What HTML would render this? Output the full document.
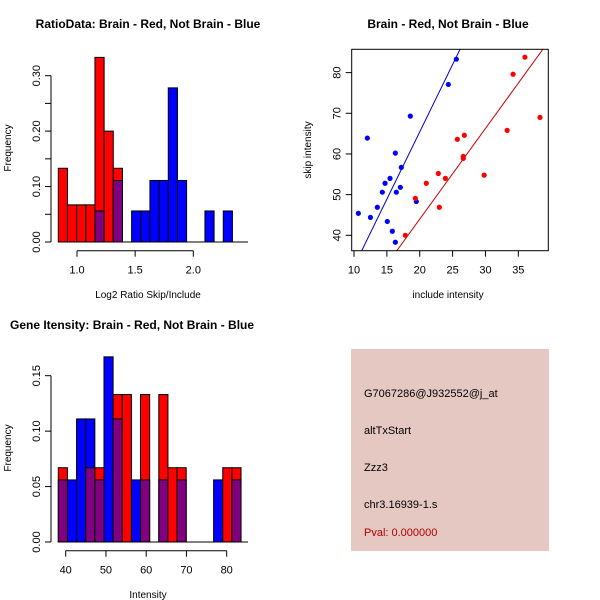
<!DOCTYPE html>
<html><head><meta charset="utf-8"><style>
html,body{margin:0;padding:0;background:#fff}
svg{display:block;font-family:"Liberation Sans",sans-serif}
</style></head><body>
<svg id="s" width="600" height="600" viewBox="0 0 600 600">
<rect width="600" height="600" fill="#fff"/>
<text x="148" y="28" text-anchor="middle" font-size="12" font-weight="bold">RatioData: Brain - Red, Not Brain - Blue</text>
<text x="448" y="28" text-anchor="middle" font-size="12" font-weight="bold">Brain - Red, Not Brain - Blue</text>
<text x="10" y="329" font-size="12" font-weight="bold">Gene Itensity: Brain - Red, Not Brain - Blue</text>
<text x="148" y="298" text-anchor="middle" font-size="10">Log2 Ratio Skip/Include</text>
<text x="448" y="298" text-anchor="middle" font-size="10">include intensity</text>
<text x="148" y="598" text-anchor="middle" font-size="10">Intensity</text>
<text transform="translate(11,148) rotate(-90)" text-anchor="middle" font-size="10">Frequency</text>
<text transform="translate(311,150) rotate(-90)" text-anchor="middle" font-size="10">skip intensity</text>
<text transform="translate(11,448) rotate(-90)" text-anchor="middle" font-size="10">Frequency</text>
<g>
<rect x="351" y="349" width="198" height="202" fill="#e6c8c2"/>
<text x="364" y="397" font-size="11">G7067286@J932552@j_at</text>
<text x="364" y="434" font-size="11">altTxStart</text>
<text x="364" y="471" font-size="11">Zzz3</text>
<text x="364" y="508" font-size="11">chr3.16939-1.s</text>
<text x="364" y="536" font-size="11" fill="#b00000">Pval: 0.000000</text>
</g>
</svg>
<script>
// Ratio histogram data
const ratioRed = [0.133,0.067,0.067,0.067,0.333,0.2,0.133,0,0,0,0,0,0,0,0,0,0,0,0];
const ratioBlue = [0,0,0,0,0.056,0,0.111,0,0.056,0.056,0.111,0.111,0.278,0.111,0,0,0.056,0,0.056];
const ratioXTicks = [1.0,1.5,2.0];
const ratioYTicks = [0,0.05,0.10,0.15,0.20,0.25,0.30];
const ratioYLabels = ["0.00","","0.10","","0.20","","0.30"];
// Intensity histogram data
const intRed = [0.067,0,0,0.067,0.067,0,0.133,0.133,0,0.133,0,0.133,0.067,0.067,0,0,0,0,0.067,0.067];
const intBlue = [0.056,0.056,0.111,0.111,0.056,0.167,0.111,0,0.056,0.056,0,0.056,0,0.056,0,0,0,0.056,0,0.056];
const intXTicks = [40,50,60,70,80];
const intYTicks = [0,0.05,0.10,0.15];
const intYLabels = ["0.00","0.05","0.10","0.15"];
// Scatter data
const blueX = [10.66,12.03,12.5,13.55,14.31,14.72,15.07,15.48,15.83,16.29,16.29,16.44,17.05,17.2,18.57,19.48,24.35,25.57];
const blueY = [45.4,63.9,44.4,46.9,50.6,52.8,43.4,54.0,41.0,60.2,38.3,50.6,51.8,56.7,69.3,48.3,77.1,83.3];
const redX = [17.81,19.33,21.0,22.83,22.98,23.9,25.72,26.78,26.63,26.63,29.8,33.3,34.2,36.0,38.3];
const redY = [40.0,49.1,52.8,55.2,46.9,54.0,63.6,64.6,59.4,58.9,54.8,65.8,79.6,83.8,69.0];
const blueFit = [-0.77,3.31];
const redFit = [-0.6,2.229];
const scXTicks = [10,15,20,25,30,35];
const scYTicks = [40,50,60,70,80];

const S=document.getElementById('s');const NS='http://www.w3.org/2000/svg';
function mk(t,a,p){const e=document.createElementNS(NS,t);for(const k in a)e.setAttribute(k,a[k]);(p||S).appendChild(e);return e;}

function hist(g,red,blue,x0,bw,xs,ys,base,yAxX,xTicks,yTicks,yLabels,axY,axLeft,axRight){
  const n=red.length;
  for(let i=0;i<n;i++){
    const xa=xs(x0+i*bw),xb=xs(x0+(i+1)*bw);
    const r=red[i],b=blue[i];
    const hi=Math.max(r,b),lo=Math.min(r,b);
    if(hi>0){
      const e=mk('rect',{x:xa,y:ys(hi),width:xb-xa,height:base-ys(hi),fill:r>=b?'#ff0000':'#0000ff',stroke:'#000','stroke-width':1},g);
      
      
    }
    if(lo>0){
      const e=mk('rect',{x:xa,y:ys(lo),width:xb-xa,height:base-ys(lo),fill:'#800080',stroke:'#000','stroke-width':1},g);
      
      
    }
  }
  mk('line',{x1:xs(x0),x2:248,y1:base,y2:base,stroke:'#000'},g);
  mk('line',{x1:yAxX,x2:yAxX,y1:ys(yTicks[0]),y2:ys(yTicks[yTicks.length-1]),stroke:'#000'},g);
  yTicks.forEach((t,i)=>{const y=ys(t);mk('line',{x1:yAxX-6,x2:yAxX,y1:y,y2:y,stroke:'#000'},g);
    if(yLabels[i]){const l=mk('text',{transform:`translate(${yAxX-11},${y}) rotate(-90)`,'text-anchor':'middle','font-size':11},g);l.textContent=yLabels[i];
    
    }});
  mk('line',{x1:xs(xTicks[0]),x2:xs(xTicks[xTicks.length-1]),y1:axY,y2:axY,stroke:'#000'},g);
  xTicks.forEach(t=>{const x=xs(t);mk('line',{x1:x,x2:x,y1:axY,y2:axY+6,stroke:'#000'},g);
    const l=mk('text',{x:x,y:axY+23,'text-anchor':'middle','font-size':11},g);l.textContent=Number.isInteger(t)?String(t):t.toFixed(1);
    if(String(t)==="1"||String(t)==="2")l.textContent=t.toFixed(1);
    
    });
}
// ratio
let g1=mk('g',{});
const rxs=v=>77+(v-1)*116.3, rys=v=>242-v*554.4;
hist(g1,ratioRed,ratioBlue,0.8392,0.0788,rxs,rys,242,51,ratioXTicks,ratioYTicks,ratioYLabels,250.7);
// intensity
let g3=mk('g',{});
const ixs=v=>65.7+(v-40)*4.025, iys=v=>542-v*1108.7;
hist(g3,intRed,intBlue,38.16,2.27,ixs,iys,542,51,intXTicks,intYTicks,intYLabels,550.7);
// scatter
let g2=mk('g',{});
const sx=v=>354+(v-10)*6.573, sy=v=>235.3-(v-40)*4.067;
const L=351.7,R=548.3,T=49.3,B=250.7;
mk('clipPath',{id:'cp'},g2);mk('rect',{x:L,y:T,width:R-L,height:B-T},document.getElementById('cp'));
function fit(f,col,name){const x1=5,x2=45;const e=mk('line',{x1:sx(x1),y1:sy(f[0]+f[1]*x1),x2:sx(x2),y2:sy(f[0]+f[1]*x2),stroke:col,'clip-path':'url(#cp)'},g2);
  
  }
fit(blueFit,'#0000cc','blue-fit-line');fit(redFit,'#cc0000','red-fit-line');
blueX.forEach((x,i)=>{const c=mk('circle',{cx:sx(x),cy:sy(blueY[i]),r:2.6,fill:'#0000ff'},g2);
  
  });
redX.forEach((x,i)=>{const c=mk('circle',{cx:sx(x),cy:sy(redY[i]),r:2.6,fill:'#ff0000'},g2);
  
  });
mk('rect',{x:L,y:T,width:R-L,height:B-T,fill:'none',stroke:'#000'},g2);
scXTicks.forEach(t=>{const x=sx(t);mk('line',{x1:x,x2:x,y1:B,y2:B+6,stroke:'#000'},g2);
  const l=mk('text',{x:x,y:B+23,'text-anchor':'middle','font-size':11},g2);l.textContent=t;
  
  });
scYTicks.forEach(t=>{const y=sy(t);mk('line',{x1:L-6,x2:L,y1:y,y2:y,stroke:'#000'},g2);
  const l=mk('text',{transform:`translate(${L-11},${y}) rotate(-90)`,'text-anchor':'middle','font-size':11},g2);l.textContent=t;
  
  });
</script>
</body></html>
